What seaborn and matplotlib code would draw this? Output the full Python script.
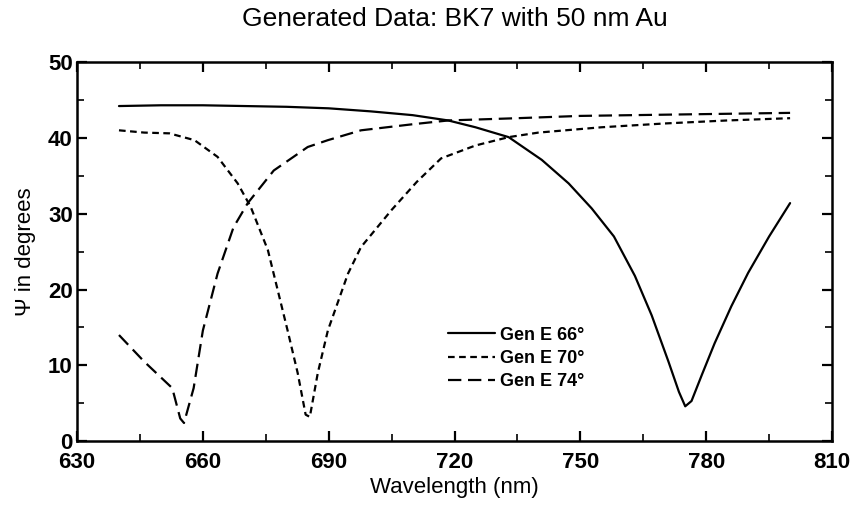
import matplotlib
matplotlib.use("Agg")
import matplotlib.pyplot as plt
import seaborn as sns
import pandas as pd
from matplotlib.ticker import MultipleLocator

sns.set_theme(style="ticks")
plt.rcParams['font.family'] = ['Liberation Sans', 'DejaVu Sans']
plt.rcParams.update({"text.color": "black", "axes.labelcolor": "black",
                     "xtick.color": "black", "ytick.color": "black"})

wl_66 = [640, 650, 660, 670, 680, 690, 700, 710, 718.5, 725, 732.9, 740.8, 747.2, 752.7, 758, 763, 767, 771, 773.5, 775, 776.5, 779, 782, 786, 790, 795, 800]
psi_66 = [44.2, 44.3, 44.3, 44.2, 44.1, 43.9, 43.5, 43.0, 42.3, 41.4, 40.1, 37.1, 34.0, 30.7, 27.0, 21.8, 16.6, 10.5, 6.5, 4.6, 5.3, 8.8, 12.9, 17.8, 22.2, 27.0, 31.4]

wl_70 = [640, 646, 652, 658, 663.5, 668.3, 671.4, 675.5, 680.2, 682.6, 684.5, 685.5, 687.4, 689.8, 694.6, 697.7, 705, 711, 716.8, 725, 732.9, 740, 755, 770, 785, 800]
psi_70 = [41.0, 40.7, 40.6, 39.7, 37.5, 34.0, 30.9, 25.2, 14.6, 9.0, 3.5, 3.2, 9.0, 14.6, 22.1, 25.6, 30.5, 34.2, 37.3, 39.0, 40.1, 40.7, 41.4, 41.9, 42.3, 42.6]

wl_74 = [640, 646, 652.7, 654.6, 655.5, 657.8, 660, 663.5, 667.3, 670.7, 676.9, 685, 689.8, 697.7, 710, 718.5, 735, 750, 775, 800]
psi_74 = [14.0, 10.5, 7.0, 3.0, 2.4, 7.0, 14.6, 22.1, 28.2, 31.4, 35.7, 38.8, 39.7, 41.0, 41.8, 42.3, 42.6, 42.9, 43.1, 43.3]

labels = ["Gen E 66°", "Gen E 70°", "Gen E 74°"]

fig = plt.figure(figsize=(8.56, 5.13), dpi=100)
ax = fig.add_axes([0.09, 0.140, 0.882, 0.739])

styles = ["-", (0, (3, 2)), (0, (6, 3))]
for wl, psi, lab, ls in zip([wl_66, wl_70, wl_74], [psi_66, psi_70, psi_74], labels, styles):
    df = pd.DataFrame({"wl": wl, "psi": psi})
    sns.lineplot(data=df, x="wl", y="psi", ax=ax, color="black", linewidth=1.6,
                 linestyle=ls, label=lab, sort=False)

ax.set_xlim(630, 810)
ax.set_ylim(0, 50)
ax.xaxis.set_major_locator(MultipleLocator(30))
ax.xaxis.set_minor_locator(MultipleLocator(15))
ax.yaxis.set_major_locator(MultipleLocator(10))
ax.yaxis.set_minor_locator(MultipleLocator(5))
ax.tick_params(which="both", direction="in", top=True, right=True, color="black", labelcolor="black")
ax.tick_params(which="major", length=7, width=1.6, labelsize=16)
ax.tick_params(axis="x", which="major", pad=8)
ax.tick_params(axis="y", which="major", pad=3)
ax.tick_params(which="minor", length=5, width=1.2)
for lbl in ax.get_xticklabels() + ax.get_yticklabels():
    lbl.set_fontweight("bold")
for s in ax.spines.values():
    s.set_linewidth(1.8)
    s.set_color("black")

ax.set_xlabel("Wavelength (nm)", fontsize=16, labelpad=3, color="black")
ax.set_ylabel("Ψ in degrees", fontsize=16, labelpad=9, color="black")
ax.set_title("Generated Data: BK7 with 50 nm Au", fontsize=19, pad=26, color="black")

leg = ax.legend(loc="upper left", bbox_to_anchor=(0.47, 0.345), frameon=False,
                prop={"size": 13, "weight": "bold"}, handlelength=2.6, handletextpad=0.3,
                labelspacing=0.35)
for t in leg.get_texts():
    t.set_color("black")

fig.savefig("out.png", dpi=100)
